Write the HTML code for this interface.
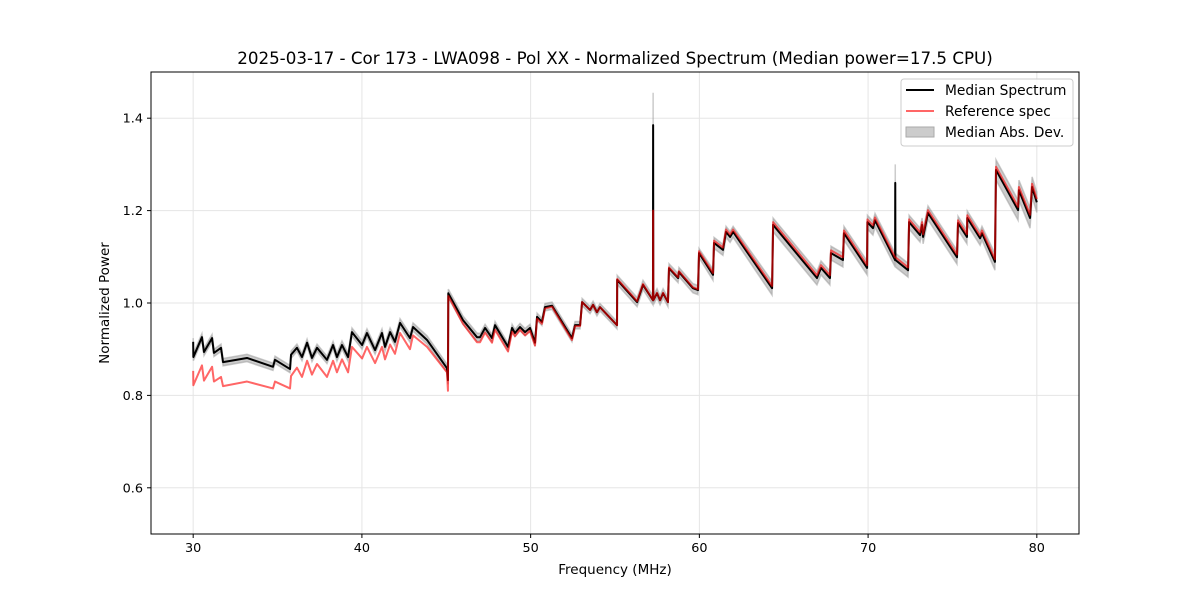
<!DOCTYPE html>
<html><head><meta charset="utf-8"><style>
body{margin:0;background:#fff;}
svg text{font-family:"DejaVu Sans","Liberation Sans",sans-serif;fill:#000;}
</style></head><body>
<svg id="chart" width="1200" height="600" viewBox="0 0 1200 600" xmlns="http://www.w3.org/2000/svg">
<rect width="1200" height="600" fill="#fff"/>
<g id="grid"></g>
<g id="marks"></g>
<rect x="151" y="72" width="928" height="462" fill="none" stroke="#000" stroke-width="1"/>
<g id="ticks"></g>
<text x="615" y="64" font-size="16.7" text-anchor="middle">2025-03-17 - Cor 173 - LWA098 - Pol XX - Normalized Spectrum (Median power=17.5 CPU)</text>
<text x="615" y="574" font-size="13.5" text-anchor="middle">Frequency (MHz)</text>
<text x="109" y="303" font-size="13.5" text-anchor="middle" transform="rotate(-90 109 303)">Normalized Power</text>
<g>
<rect x="901" y="79" width="172" height="67" rx="3" fill="#fff" fill-opacity="0.8" stroke="#ccc"/>
<line x1="906" y1="90" x2="934" y2="90" stroke="#000" stroke-width="2"/>
<text x="945" y="95" font-size="13.8">Median Spectrum</text>
<line x1="906" y1="111" x2="934" y2="111" stroke="#ff6666" stroke-width="2"/>
<text x="945" y="116" font-size="13.8">Reference spec</text>
<rect x="906" y="127" width="28" height="10" fill="#ccc" stroke="#aaa"/>
<text x="945" y="137" font-size="13.8">Median Abs. Dev.</text>
</g>
</svg>
<script>
const freqs=[30.0,30.01,30.52,30.64,31.12,31.23,31.65,31.77,33.19,34.73,
34.85,35.74,35.80,36.15,36.45,36.75,37.04,37.34,37.93,38.29,
38.52,38.82,39.18,39.41,40.01,40.30,40.78,41.19,41.37,41.67,
41.96,42.26,42.85,43.03,43.86,45.04,45.10,45.12,45.99,46.82,
47.0,47.3,47.71,47.89,48.66,48.90,49.07,49.37,49.67,49.96,
50.26,50.38,50.67,50.85,51.27,52.45,52.63,52.93,53.05,53.52,
53.70,53.93,54.11,55.12,55.13,56.31,56.66,57.25,57.26,57.27,
57.49,57.67,57.85,58.14,58.20,58.74,58.79,59.62,59.92,59.98,
60.81,60.87,61.40,61.58,61.82,62.0,64.31,64.37,66.97,67.21,
67.74,67.80,68.51,68.57,69.94,69.96,70.29,70.41,71.60,71.61,
71.62,72.37,72.43,73.08,73.20,73.26,73.55,75.27,75.33,75.86,
75.88,76.64,76.75,77.52,77.58,78.89,78.94,79.60,79.72,80.0];
const median=[.916,.883,.926,.894,.924,.892,.903,.872,.881,.862,
.877,.857,.888,.903,.883,.914,.881,.903,.877,.909,
.883,.909,.883,.937,.909,.935,.898,.935,.905,.937,
.916,.957,.924,.948,.920,.859,.833,1.021,.963,.926,
.926,.946,.924,.952,.905,.946,.935,.948,.937,.946,
.914,.970,.959,.991,.994,.924,.952,.952,1.002,.985,
.996,.980,.991,.952,1.050,1.002,1.039,1.006,1.385,1.006,
1.021,1.006,1.021,1.002,1.075,1.054,1.067,1.032,1.028,1.108,
1.061,1.130,1.115,1.154,1.143,1.154,1.032,1.169,1.054,1.076,
1.054,1.108,1.093,1.151,1.076,1.175,1.162,1.179,1.093,1.26,
1.093,1.071,1.175,1.147,1.169,1.143,1.195,1.099,1.173,1.143,
1.184,1.140,1.151,1.089,1.288,1.201,1.244,1.184,1.251,1.218];
const reference=[.853,.822,.865,.832,.862,.830,.840,.820,.830,.815,
.830,.815,.842,.860,.840,.875,.845,.868,.840,.875,
.850,.878,.850,.905,.880,.905,.870,.905,.878,.910,
.890,.935,.900,.930,.905,.850,.810,1.015,.955,.915,
.915,.936,.914,.942,.895,.938,.928,.942,.930,.940,
.908,.966,.955,.988,.992,.920,.950,.950,1.002,.985,
.996,.980,.991,.952,1.052,1.004,1.041,1.006,1.200,1.006,
1.022,1.006,1.022,1.002,1.077,1.056,1.069,1.034,1.030,1.112,
1.065,1.135,1.120,1.159,1.148,1.159,1.037,1.175,1.060,1.082,
1.060,1.114,1.099,1.157,1.082,1.181,1.168,1.185,1.099,1.099,
1.099,1.077,1.181,1.153,1.175,1.149,1.201,1.105,1.179,1.149,
1.190,1.146,1.157,1.095,1.295,1.208,1.251,1.191,1.258,1.225];
const mad=[.008,.008,.008,.008,.008,.008,.008,.008,.008,.008,
.008,.008,.008,.008,.008,.008,.008,.008,.008,.008,
.009,.009,.009,.009,.009,.009,.009,.009,.009,.009,
.009,.009,.009,.009,.009,.009,.009,.009,.009,.009,
.008,.008,.008,.008,.008,.008,.008,.008,.008,.008,
.008,.008,.008,.008,.008,.008,.008,.008,.008,.008,
.008,.008,.008,.008,.01,.01,.01,.01,.07,.01,
.01,.01,.01,.01,.01,.01,.01,.01,.01,.01,
.012,.012,.012,.012,.012,.012,.015,.015,.015,.015,
.015,.015,.015,.015,.015,.015,.015,.015,.015,.04,
.015,.015,.015,.015,.015,.015,.015,.015,.015,.015,
.015,.015,.015,.018,.022,.022,.022,.022,.022,.022];
const xTicks=[30,40,50,60,70,80];
const yTicks=[0.6,0.8,1.0,1.2,1.4];
const yTickLabels=["0.6","0.8","1.0","1.2","1.4"];

const NS="http://www.w3.org/2000/svg";
const X0=151,X1=1079,Y0=72,Y1=534,XMIN=27.5,XMAX=82.5,YMIN=0.5,YMAX=1.5;
function sx(f){return X0+(f-XMIN)/(XMAX-XMIN)*(X1-X0);}
function sy(v){return Y1-(v-YMIN)/(YMAX-YMIN)*(Y1-Y0);}
function mk(tag,attrs,parent){const e=document.createElementNS(NS,tag);for(const k in attrs)e.setAttribute(k,attrs[k]);parent.appendChild(e);return e;}
const grid=document.getElementById('grid'),ticks=document.getElementById('ticks'),marks=document.getElementById('marks');
xTicks.forEach(t=>{
  const x=sx(t);
  const g=mk('line',{x1:x,x2:x,y1:Y0,y2:Y1,stroke:'#e5e5e5','stroke-width':1},grid);
  
  
  const tk=mk('line',{x1:x,x2:x,y1:Y1,y2:Y1+4,stroke:'#000'},ticks);
  
  
  const tx=mk('text',{x:x,y:Y1+18,'font-size':12.8,'text-anchor':'middle'},ticks);
  tx.textContent=String(t);
  
  
});
yTicks.forEach((t,i)=>{
  const y=sy(t);
  const g=mk('line',{x1:X0,x2:X1,y1:y,y2:y,stroke:'#e5e5e5','stroke-width':1},grid);
  
  
  const tk=mk('line',{x1:X0-4,x2:X0,y1:y,y2:y,stroke:'#000'},ticks);
  
  
  const tx=mk('text',{x:X0-8,y:y+4.5,'font-size':12.8,'text-anchor':'end'},ticks);
  tx.textContent=yTickLabels[i];
  
  
});
let up='',dn='';
freqs.forEach((f,i)=>{up+=(i?'L':'M')+sx(f).toFixed(2)+','+sy(median[i]+mad[i]).toFixed(2);});
for(let i=freqs.length-1;i>=0;i--){dn+='L'+sx(freqs[i]).toFixed(2)+','+sy(median[i]-mad[i]).toFixed(2);}
const band=mk('path',{d:up+dn+'Z',fill:'#999','fill-opacity':0.5,stroke:'#999','stroke-opacity':0.5,'stroke-width':1.5},marks);


function line(arr){return freqs.map((f,i)=>(i?'L':'M')+sx(f).toFixed(2)+','+sy(arr[i]).toFixed(2)).join('');}
const ml=mk('path',{d:line(median),fill:'none',stroke:'#000','stroke-width':2,'stroke-linejoin':'round'},marks);


const rl=mk('path',{d:line(reference),fill:'none',stroke:'#ff0000','stroke-opacity':0.6,'stroke-width':2,'stroke-linejoin':'round'},marks);


</script>
</body></html>
